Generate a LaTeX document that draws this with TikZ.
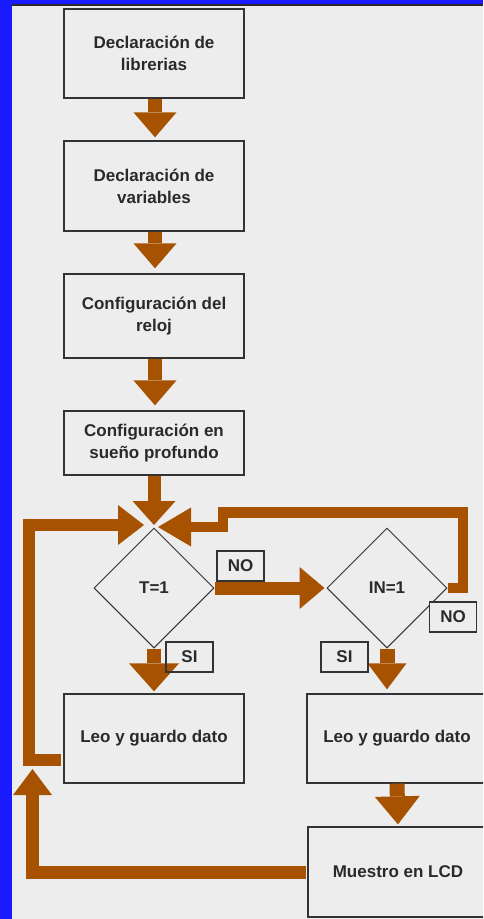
\documentclass[tikz,border=0pt]{standalone}
\usepackage{fontspec}
\setmainfont{Liberation Sans}
\usetikzlibrary{arrows.meta,shapes.geometric,calc}
\definecolor{bgc}{HTML}{EDEDED}
\definecolor{edgeblue}{HTML}{1A1AFF}
\definecolor{topline}{HTML}{2A2A2A}
\definecolor{arr}{HTML}{A65200}
\definecolor{bord}{HTML}{333333}
\definecolor{txt}{HTML}{2A2A2A}
\tikzset{
  txtfont/.style={font=\bfseries\fontsize{17}{22}\selectfont, text=txt},
  box/.style={draw=bord, line width=1.3pt, rectangle, minimum width=180pt, inner sep=0pt, align=center, txtfont},
  dia/.style={draw=bord, line width=1pt, diamond, aspect=1, minimum width=120pt, minimum height=120pt, inner sep=0pt, txtfont},
  lab/.style={draw=bord, line width=1.2pt, rectangle, minimum width=47pt, minimum height=30pt, inner sep=0pt, txtfont},
  fat/.style={draw=arr, line width=#1, line join=miter, line cap=butt},
  fathead/.style 2 args={-{Triangle[width=#1,length=#2,line width=0pt]}}
}
\begin{document}
\begin{tikzpicture}[x=1pt,y=-1pt]
\useasboundingbox (0,0) rectangle (483,919);
\clip (0,0) rectangle (483,919);
\fill[bgc] (0,0) rectangle (483,919);
\fill[edgeblue] (0,0) rectangle (12,919);
\fill[edgeblue] (0,0) rectangle (483,4);
\fill[topline] (12,4) rectangle (483,6);

% process boxes
\node[box, minimum height=89pt] (b1) at (154,53.5) {Declaración de\\librerias};
\node[box, minimum height=90pt] (b2) at (154,186) {Declaración de\\variables};
\node[box, minimum height=84pt] (b3) at (154,316) {Configuración del\\reloj};
\node[box, minimum height=64pt] (b4) at (154,443) {Configuración en\\sueño profundo};
\node[dia] (d1) at (154,588) {T=1};
\node[dia] (d2) at (387,588) {IN=1};
\node[box, minimum height=89pt] (l1) at (154,738.5) {Leo y guardo dato};
\node[box, minimum height=89pt] (l2) at (397,738.5) {Leo y guardo dato};
\node[box, minimum height=90pt] (m) at (398,872) {Muestro en LCD};

% junction points
\coordinate (j) at (154,525);
\coordinate (jl) at (144,525);
\coordinate (jr) at (158,527);
\coordinate (lc) at (29,760);
\coordinate (up) at (32.5,769);
\coordinate (rc1) at (463,588);
\coordinate (rc2) at (463,512.5);
\coordinate (rc3) at (223,512.5);
\coordinate (rc4) at (223,527);

% connectors
\draw[fat=14pt, fathead={43pt}{25pt}, shorten >=3pt] ([xshift=1pt]b1.south) -- ([xshift=1pt]b2.north);
\draw[fat=14pt, fathead={43pt}{25pt}, shorten >=5pt] ([xshift=1pt]b2.south) -- ([xshift=1pt]b3.north);
\draw[fat=14pt, fathead={43pt}{25pt}, shorten >=5pt] ([xshift=1pt]b3.south) -- ([xshift=1pt]b4.north);
\draw[fat=13pt, fathead={43pt}{24pt}] (b4.south) -- (j);
\draw[fat=12pt, fathead={40pt}{26pt}] ($(l1.west |- lc)+(-2,0)$) -- (lc) -- (lc |- jl) -- (jl);
\draw[fat=10.5pt, fathead={39pt}{33pt}] (d2.east) -- (rc1) -- (rc2) -- (rc3) -- (rc4) -- (jr);
\draw[fat=13pt, fathead={42pt}{25pt}, shorten >=2pt] (d1.east) -- (d2.west);
\draw[fat=14pt, fathead={50pt}{28pt}, shorten >=2pt] (d1.south) -- (l1.north);
\draw[fat=15pt, fathead={39pt}{26pt}, shorten >=4pt] (d2.south) -- (d2.south |- l2.north);
\draw[fat=15pt, fathead={45pt}{28pt}, shorten >=2pt] (l2.south) -- (m.north);
\draw[fat=13pt, fathead={39pt}{26pt}] ($(m.west)+(-1,0)$) -- (m.west -| up) -- (up);

% branch labels
\node[lab, fill=bgc] (no1) at (240.5,566) {NO};
\node[lab, fill=bgc] (no2) at (453,617) {NO};
\node[lab] (si1) at (189.5,657) {SI};
\node[lab] (si2) at (344.5,657) {SI};
\end{tikzpicture}
\end{document}
